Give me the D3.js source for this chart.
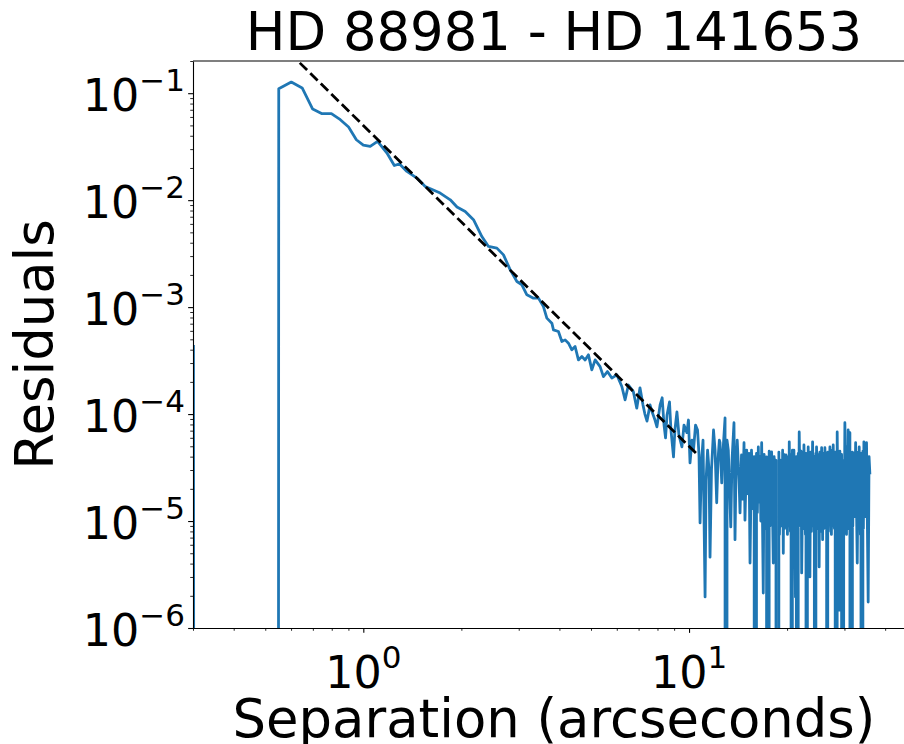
<!DOCTYPE html>
<html><head><meta charset="utf-8">
<script src="https://cdn.jsdelivr.net/npm/d3@7"></script>
<style>body{margin:0;background:#fff}svg{display:block}text{font-family:"DejaVu Sans",sans-serif;fill:#000}</style>
</head><body>
<script>
// ---- data ----
const title = "HD 88981 - HD 141653";
const xLabel = "Separation (arcseconds)";
const yLabel = "Residuals";
const xDomain = [0.3, 49.4];
const yDomain = [1e-6, 0.2];
const xMajorTicks = [1, 10];
const xTickExps = ["0", "1"];
const yMajorTicks = [1e-1, 1e-2, 1e-3, 1e-4, 1e-5, 1e-6];
const yTickExps = ["\u22121", "\u22122", "\u22123", "\u22124", "\u22125", "\u22126"];

const separation = [
 0.301,0.35,0.50,0.55,0.601,0.649,0.699,0.747,0.798,0.850,
 0.901,0.952,1.00,1.05,1.106,1.182,1.245,1.292,1.361,1.461,
 1.549,1.722,1.849,1.939,2.055,2.179,2.312,2.423,2.571,2.694,
 2.825,2.962,3.068,3.178,3.330,3.449,3.573,3.660,3.792,3.835,
 3.972,4.07,4.165,4.264,4.367,4.469,4.575,4.687,4.797,4.911,
 5.030,5.149,5.333,5.459,5.616,5.793,6.001,6.218,6.364,6.514,
 6.747,6.911,
 7.07,7.22,7.32,7.43,7.59,7.70,7.86,7.97,8.15,8.27,
 8.38,8.47,8.56,8.71,8.80,8.96,9.05,9.18,9.31,9.51,
 9.65,9.85,9.96,10.07,10.21,10.32,10.47,10.62,10.73,10.81,
 10.93,11.04,11.20,11.28,11.40,11.52,11.60,11.72,11.89,12.02,
 12.16,12.27,12.39,12.45,12.60,12.72,12.90,12.99,13.08,13.20,
 13.43,13.55,13.74,13.84,13.94,14.06,14.24,
 14.34,14.49,14.62,14.75,14.85,15.03,15.17,15.28,15.39,15.55,
 15.75,15.85,15.94,16.11,16.21,16.32,16.42,16.51,16.61,16.71,
 16.90,17.00,17.10,17.30,17.51,17.62,17.72,17.93,18.14,18.25,
 18.36,18.49,18.79,18.87,18.95,19.12,19.29,19.38,19.47,19.55,
 19.64,19.84,20.05,20.18,20.25,20.31,20.48,20.57,20.66,20.76,
 20.85,20.99,21.22,21.35,21.49,21.64,21.72,21.79,21.98,22.08,
 22.17,22.37,22.45,22.53,22.77,22.86,22.95,23.09,23.16,23.22,
 23.35,23.42,23.50,23.62,23.75,23.95,24.17,24.25,24.34,24.52,
 24.58,24.63,24.86,24.97,25.09,25.20,25.31,25.53,25.71,25.83,
 25.94,26.13,26.35,26.45,26.55,26.66,26.78,27.07,27.36,27.53,
 27.62,27.71,27.95,28.10,28.24,28.50,28.70,28.80,28.91,29.05,
 29.20,29.40,29.61,29.84,29.96,30.09,30.44,30.62,30.71,30.80,
 30.95,31.18,31.56,31.74,31.83,31.92,32.19,32.47,32.84,33.07,
 33.18,33.30,33.58,33.72,33.87,34.18,34.30,34.42,34.79,35.07,
 35.48,35.70,35.90
];
const residuals = [
 4.3e-4,0,0,0.110,0.127,0.112,0.0711,0.0643,0.0643,0.0565,
 0.0483,0.0367,0.0327,0.0318,0.0354,0.0276,0.0211,0.0218,0.01856,0.0161,
 0.01343,0.01165,0.01008,0.00862,0.00783,0.00656,0.00457,0.00369,0.00356,0.00308,
 0.00223,0.001736,0.001618,0.001303,0.001213,0.001213,0.001013,7.89e-4,7.08e-4,6.13e-4,
 5.92e-4,4.77e-4,4.94e-4,4.60e-4,3.99e-4,4.28e-4,3.21e-4,3.45e-4,3.21e-4,3.58e-4,
 2.59e-4,3.21e-4,2.78e-4,2.24e-4,2.50e-4,2.17e-4,2.33e-4,1.81e-4,1.36e-4,1.87e-4,
 1.62e-4,1.135e-4,
 1.76e-4,1.22e-4,1.0e-4,8.6e-5,1.22e-4,1.05e-4,8.8e-5,7.6e-5,1.22e-4,1.42e-4,
 7.9e-5,6.0e-5,9.8e-5,1.30e-4,7.1e-5,3.98e-5,7.1e-5,1.05e-4,6.4e-5,4.93e-5,
 7.9e-5,6.7e-5,8.8e-5,3.5e-5,5.7e-5,4.6e-5,7.9e-5,7.1e-5,4.15e-5,9.6e-6,
 3.7e-5,5.7e-5,1.95e-6,2.4e-5,4.6e-5,3.0e-5,4.6e-6,3.0e-5,7.1e-5,4.6e-5,
 1.48e-5,3.7e-5,5.7e-5,5.4e-5,2.27e-5,4.6e-5,9.2e-5,0,5.7e-5,4.6e-5,
 8.8e-6,3.7e-5,8.3e-5,6.7e-6,3.0e-5,5.7e-5,2.4e-5,
 1.19e-5,4.15e-5,1.6e-5,5.4e-5,1.02e-5,4.6e-5,1.8e-5,4.3e-5,4.05e-6,4.6e-5,
 1.3e-5,4.0e-5,0,4.3e-5,1.2e-5,4.93e-5,1.5e-5,4.0e-5,1.0e-5,5.4e-5,
 2.12e-6,4.2e-5,8.5e-6,3.98e-5,0,4.5e-5,9e-6,4.43e-5,4.05e-6,4.0e-5,
 8e-6,3.7e-5,0,4.4e-5,7.5e-6,3.7e-5,9e-6,4.6e-5,5.0e-6,4.2e-5,
 8.5e-6,4.15e-5,7.5e-6,4.0e-5,9e-6,5.5e-5,8e-6,4.2e-5,0,4.6e-5,
 8.5e-6,4.6e-5,1.95e-6,4.0e-5,0,4.3e-5,9e-6,6.8e-5,1.1e-5,4.5e-5,
 3.27e-6,4.4e-5,8.5e-6,5.15e-5,7.5e-6,4.3e-5,0,4.0e-5,1.0e-5,4.93e-5,
 8.5e-6,4.2e-5,3.0e-6,4.4e-5,8e-6,5.5e-5,9e-6,4.0e-5,0,4.3e-5,
 9e-6,4.93e-5,8.5e-6,4.2e-5,3.72e-6,4.4e-5,8e-6,4.85e-5,6.7e-6,4.3e-5,
 8.5e-6,4.85e-5,1.1e-5,4.0e-5,0,4.4e-5,8e-6,4.93e-5,7.5e-6,4.6e-5,
 9e-6,5.15e-5,8.5e-6,4.4e-5,0,6.8e-5,8e-6,4.3e-5,1.47e-6,4.5e-5,
 5.7e-6,4.2e-5,0,3.7e-5,8.5e-6,8.3e-5,7.5e-6,5.0e-5,9e-6,7.1e-5,
 8.5e-6,6.7e-5,0,4.4e-5,9e-6,4.34e-5,1.1e-5,5.4e-5,4.05e-6,4.4e-5,
 8.5e-6,4.93e-5,7.5e-6,4.3e-5,0,4.5e-5,8.5e-6,5.5e-5,1.1e-5,5.4e-5,
 1.75e-6,4.0e-5,2.82e-5
];
// power-law fit endpoints (dashed)
const fitSeparation = [0.55, 10.63];
const fitResiduals = [0.30, 4.16e-5];

// ---- layout ----
const W = 904, H = 744;
const L = 193, R = 915, T = 61, B = 628;
const svg = d3.select("body").append("svg").attr("width", W).attr("height", H);
const x = d3.scaleLog().domain(xDomain).range([L, R]);
const y = d3.scaleLog().domain(yDomain).range([B, T]);

svg.append("defs").append("clipPath").attr("id", "plot")
  .append("rect").attr("x", L).attr("y", T).attr("width", R - L).attr("height", B - T);

const pts = separation.map((s, i) => [s, residuals[i]]);
const line = d3.line().x(d => x(d[0])).y(d => y(Math.max(d[1], 1e-300)));

const g = svg.append("g").attr("clip-path", "url(#plot)");
g.append("path").datum(pts).attr("d", line)
  .attr("fill", "none").attr("stroke", "#1f77b4").attr("stroke-width", 2.78)
  .attr("stroke-linejoin", "round").attr("stroke-linecap", "square");
g.append("path").datum(fitSeparation.map((s, i) => [s, fitResiduals[i]])).attr("d", line)
  .attr("fill", "none").attr("stroke", "#000").attr("stroke-width", 2.78)
  .attr("stroke-dasharray", "10.3,4.45");

// axes (ticks only; labels drawn separately as mathtext-like)
const xAxis = d3.axisBottom(x).tickValues(
  [0.3,0.4,0.5,0.6,0.7,0.8,0.9,1,2,3,4,5,6,7,8,9,10,20,30,40]).tickFormat("").tickSizeOuter(0);
const gx = svg.append("g").attr("transform", `translate(0,${B})`).call(xAxis);
gx.selectAll(".tick line").attr("y2", d => xMajorTicks.includes(d) ? 4.86 : 2.78)
  .attr("stroke-width", d => xMajorTicks.includes(d) ? 1.1 : 0.85);
gx.select(".domain").attr("stroke-width", 1.1);

const yMinor = [];
[1e-6,1e-5,1e-4,1e-3,1e-2,1e-1].forEach(b => { for (let k = 1; k <= 9; k++) { const v = b * k; if (v <= 0.2 + 1e-12) yMinor.push(v); } });
const isMajorY = d => yMajorTicks.some(m => Math.abs(m - d) / m < 1e-6);
const yAxis = d3.axisLeft(y).tickValues(yMinor).tickFormat("").tickSizeOuter(0);
const gy = svg.append("g").attr("transform", `translate(${L},0)`).call(yAxis);
gy.selectAll(".tick line").attr("x2", d => isMajorY(d) ? -4.86 : -2.78)
  .attr("stroke-width", d => isMajorY(d) ? 1.1 : 0.85);
gy.select(".domain").attr("stroke-width", 1.1);

// top spine
svg.append("line").attr("x1", L).attr("x2", R).attr("y1", T).attr("y2", T)
  .attr("stroke", "#000").attr("stroke-width", 1.1);

const FS = 44.4, SS = 31;
xMajorTicks.forEach((v, i) => {
  const t = svg.append("text").attr("x", x(v)).attr("y", 688).attr("text-anchor", "middle").attr("font-size", FS);
  t.append("tspan").text("10");
  t.append("tspan").attr("font-size", SS).attr("dy", -20).text(xTickExps[i]);
});
yMajorTicks.forEach((v, i) => {
  const t = svg.append("text").attr("x", 185).attr("y", y(v) + 18).attr("text-anchor", "end").attr("font-size", FS);
  t.append("tspan").text("10");
  t.append("tspan").attr("font-size", SS).attr("dy", -20).text(yTickExps[i]);
});

svg.append("text").attr("x", (L + R) / 2).attr("y", 50).attr("text-anchor", "middle")
  .attr("font-size", 52.8).text(title);
svg.append("text").attr("x", (L + R) / 2).attr("y", 737).attr("text-anchor", "middle")
  .attr("font-size", 52.8).text(xLabel);
svg.append("text").attr("transform", `translate(53,${(T + B) / 2}) rotate(-90)`).attr("text-anchor", "middle")
  .attr("font-size", 52.8).text(yLabel);
</script>
</body></html>
